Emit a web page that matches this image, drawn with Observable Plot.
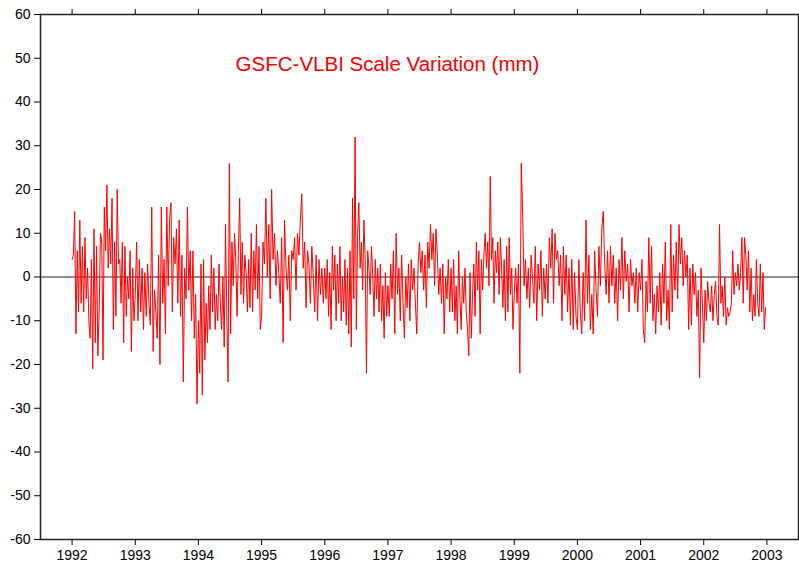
<!DOCTYPE html>
<html><head><meta charset="utf-8">
<script src="https://cdn.jsdelivr.net/npm/d3@7"></script>
<script src="https://cdn.jsdelivr.net/npm/@observablehq/plot@0.6"></script>
<style>body{margin:0;background:#fff}</style>
</head><body><div id="chart"></div>
<script>
const title = "GSFC-VLBI Scale Variation (mm)";
const years = [1992, 1993, 1994, 1995, 1996, 1997, 1998, 1999, 2000, 2001, 2002];
const yearTicks = [1992, 1993, 1994, 1995, 1996, 1997, 1998, 1999, 2000, 2001, 2002, 2003];
const valueTicks = [-60, -50, -40, -30, -20, -10, 0, 10, 20, 30, 40, 50, 60];

// scale variation (mm), per year
const v1992 = [4, 5, 15, -13, 6, -8, 13, -6, 7, -8, 9, -5, 2, -10, -14, 4, -21, 11, -15, 7, -18, -8, 10, 8, -19, 16, 6, 21, 2, 11, 3, 18, -12, 8, -9, 20, 3, 4, -6, 8, -15, 7, -9, 0, -5, 6, -17, 2, -10];
const v1993 = [-4, 8, -10, 4, -8, 2, -12, 1, -9, 3, -6, -11, 16, -17, -3, -8, -14, 5, -20, 16, -6, 4, -13, 16, -2, 13, 17, -8, 9, 3, 11, -6, 13, -9, 5, -24, 2, -5, 16, -3, 6, -10, 6, -14, -4, -29];
const v1994 = [-10, -22, 3, -27, 4, -19, -6, -15, -2, -12, 5, -8, 2, -12, -4, -10, 3, -6, -12, 0, -16, 12, -8, -24, 26, -13, 8, -2, 10, 4, -9, 6, 18, -4, 8, -6, 5, 1, -8, 4, -7, 10, -8, 6, -3, 12, -5, 7, -12];
const v1995 = [-9, 8, 3, 18, 0, 12, -5, 20, 4, 10, -2, 6, 1, -6, 9, -15, 13, 2, -3, 5, -10, 6, 4, 9, -3, 10, 5, 13, 19, 2, 8, -7, 6, 3, -6, 7, 0, -8, 5, -10, 4, -4, 2, -6];
const v1996 = [2, -5, 4, -9, 1, -12, 7, -3, 5, -10, 3, -6, 7, -10, 0, -8, 4, -11, 2, -13, 6, -16, 18, -5, 32, -12, 10, 17, 2, 8, -3, 13, 4, -22, 6, 2, -4, 7, 0, -9, 4, -5, 2, -8, 3, -10, -2, -14, 1, -9];
const v1997 = [-2, -9, 3, -5, 6, -13, 10, -4, 2, -10, 5, -6, -14, 0, -7, 3, -10, 4, -3, 2, -6, -13, 3, 8, 1, 6, -3, 5, -7, 8, 2, 12, 4, 10, -2, 11, 5, -4, 2, -6, 3, -13, 0, -5, 4, -8];
const v1998 = [2, -8, 4, -10, -2, -13, 6, -5, -12, 0, -6, 2, -8, -12, -18, 1, -14, -4, 3, -9, 8, -3, 6, -13, 4, -3, 5, 10, 2, 8, -2, 23, 4, 9, -6, 6, 1, 8, -4, 9, 2, -7, 4, -10, 7, -8, 9, -4, 2, -12];
const v1999 = [-4, 2, -6, 3, -22, 26, 14, -2, 4, -5, 2, -7, 5, 0, -6, 7, -10, 3, -3, 6, -9, 2, -5, 3, -6, 9, 2, 11, -6, 10, 4, 6, -2, 5, -10, 7, -4, 5, -8, 2, -11, 4, -12, 1, -9];
const v2000 = [-12, 4, -8, -13, 1, -10, 13, -6, 5, -12, -4, -13, 6, -3, -9, 7, -2, 11, 15, 3, -4, 6, -6, 7, -2, 5, -6, 2, -10, 4, -3, 9, -5, 6, -1, 3, -8, 4, -2, 1, -6, 2, -8, 1];
const v2001 = [-3, 4, -12, -15, -1, -8, 9, -6, 7, -10, -4, -13, -2, -8, 1, -11, 3, -6, 8, -10, -3, -12, 12, -8, 5, -3, 8, -5, 12, 3, 9, -2, 6, 0, 5, -12, 2, -11, 3, -4, 1, -9, -3, -23, 2, -6];
const v2002 = [-15, -3, -10, -1, -6, -8, -2, -10, -4, -1, -9, -11, 12, -6, -2, -9, 0, -11, -7, -9, -8, -6, 6, -4, 1, -2, 3, -3, 1, 9, -6, 9, 5, -3, 6, -8, 2, -10, -4, -9, 4, -6, -9, 3, -8, 1, -12, -7];

const series = [v1992, v1993, v1994, v1995, v1996, v1997, v1998, v1999, v2000, v2001, v2002];
const rows = [];
years.forEach((yr, k) => {
  const vals = series[k];
  vals.forEach((v, i) => rows.push({t: yr + i / vals.length, v}));
});

const chart = Plot.plot({
  width: 799,
  height: 566,
  marginLeft: 40,
  marginRight: 1,
  marginTop: 14,
  marginBottom: 27,
  style: {fontFamily: "'Liberation Sans', Arial, Helvetica, sans-serif", fontSize: "14px", background: "#fff", color: "#000"},
  x: {domain: [1991.5, 2003.5]},
  y: {domain: [-60, 60]},
  marks: [
    Plot.axisX({anchor: "bottom", ticks: yearTicks, tickFormat: d => String(d), tickSize: 6, tickPadding: 5, label: null}),
    Plot.axisX({anchor: "top", ticks: yearTicks, tickFormat: () => "", tickSize: 6, label: null}),
    Plot.axisY({anchor: "left", ticks: valueTicks, tickFormat: d => String(d), tickSize: 6, tickPadding: 4, label: null}),
    Plot.axisY({anchor: "right", ticks: valueTicks, tickFormat: () => "", tickSize: 6, label: null}),
    Plot.ruleY([0], {stroke: "#222", strokeWidth: 1}),
    Plot.line(rows, {x: "t", y: "v", stroke: "red", strokeWidth: 1}),
    Plot.text([title], {frameAnchor: "top", dx: -32, dy: 42, fill: "red", fontSize: 20.5, text: d => d}),
    Plot.frame({stroke: "#222", strokeWidth: 1.5})
  ]
});
document.getElementById("chart").appendChild(chart);
</script>
</body></html>
